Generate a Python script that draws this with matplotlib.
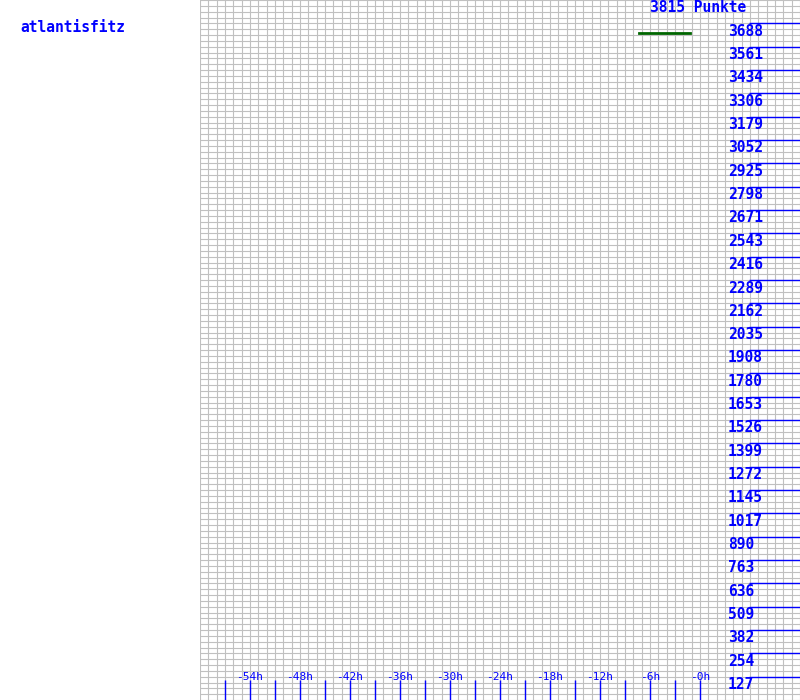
import numpy as np
import matplotlib
matplotlib.use("Agg")
import matplotlib.pyplot as plt

# data
player = "atlantisfitz"
points_label = "3815 Punkte"
y_max = 3815
y_ticks = [127, 254, 382, 509, 636, 763, 890, 1017, 1145, 1272, 1399, 1526,
           1653, 1780, 1908, 2035, 2162, 2289, 2416, 2543, 2671, 2798, 2925,
           3052, 3179, 3306, 3434, 3561, 3688]
x_label_hours = [-54, -48, -42, -36, -30, -24, -18, -12, -6, 0]
x_tick_hours = list(range(-57, 1, 3))
line_hours = [-7.3, -1.2]
line_points = [3637, 3637]

BLUE = "#0000ff"
GRID = "#c0c0c0"
GREEN = "#006600"
FONT = "DejaVu Sans Mono"

fig = plt.figure(figsize=(8, 7), dpi=100)
fig.patch.set_facecolor("white")
ax = fig.add_axes([0.25, 0, 0.75, 1])
ax.set_xlim(-60, 12)
ax.set_ylim(0, y_max)

# fine grid: 1h columns, 120 rows
ax.set_xticks(np.arange(-60, 13, 1))
ax.set_yticks(np.linspace(0, y_max, 121))
ax.grid(True, color=GRID, linewidth=0.8)
ax.tick_params(length=0, labelbottom=False, labelleft=False)
for s in ax.spines.values():
    s.set_visible(False)
ax.set_axisbelow(True)

# hour tick marks at the bottom
ax.vlines(x_tick_hours, 0, 20 / 700, transform=ax.get_xaxis_transform(),
          color=BLUE, linewidth=1.0)
for h in x_label_hours:
    ax.annotate(f"-{abs(h)}h", (h, 0), xycoords=("data", "data"),
                xytext=(0, 23), textcoords="offset pixels",
                ha="center", va="center", color=BLUE, fontsize=8,
                family=FONT)

# point levels on the right
ax.hlines(y_ticks, (749 - 200) / 600, 1, transform=ax.get_yaxis_transform(),
          color=BLUE, linewidth=1.0)
for v in y_ticks:
    ax.annotate(str(v), ((728 - 200) / 600, v),
                xycoords=ax.get_yaxis_transform(),
                xytext=(0, -8), textcoords="offset pixels",
                ha="left", va="center", color=BLUE, fontsize=10.5,
                family=FONT, fontweight="bold")

ax.plot(line_hours, line_points, color=GREEN, linewidth=2)

ax.text((698 - 200) / 600, 1 - 7 / 700, points_label, transform=ax.transAxes,
        ha="center", va="center", color=BLUE, fontsize=10.5, family=FONT,
        fontweight="bold")
fig.text(20 / 800, 1 - 28 / 700, player, ha="left", va="center", color=BLUE,
         fontsize=10.5, family=FONT, fontweight="bold")

fig.savefig("out.png", dpi=100)
